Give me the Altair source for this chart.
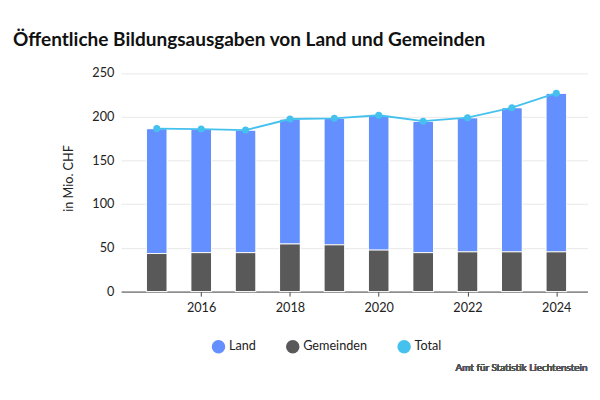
import altair as alt
import pandas as pd

years = [2015, 2016, 2017, 2018, 2019, 2020, 2021, 2022, 2023, 2024]
gemeinden = [43.6, 44.6, 44.6, 54.5, 53.5, 47.5, 44.6, 45.5, 45.5, 45.5]
total = [186.5, 186.0, 184.8, 197.5, 198.3, 201.8, 195.0, 199.0, 210.5, 227.0]
land = [round(t - g, 1) for t, g in zip(total, gemeinden)]

bars = pd.DataFrame(
    {"Jahr": years * 2, "Wert": land + gemeinden,
     "Serie": ["Land"] * 10 + ["Gemeinden"] * 10,
     "ord": [1] * 10 + [0] * 10}
)
line = pd.DataFrame({"Jahr": years, "Wert": total, "Serie": ["Total"] * 10})

font = "Lato"
color = alt.Color(
    "Serie:N",
    scale=alt.Scale(domain=["Land", "Gemeinden", "Total"],
                    range=["#648fff", "#595959", "#45c1ee"]),
    legend=alt.Legend(title=None, orient="none", direction="horizontal",
                      legendX=100, legendY=304,
                      symbolType="circle", symbolSize=180, labelFontSize=14,
                      labelFont=font, labelColor="#222", columnPadding=30),
)
x = alt.X("Jahr:Q", title=None, scale=alt.Scale(domain=[2014.3, 2024.6], nice=False, zero=False),
          axis=alt.Axis(values=[2016, 2018, 2020, 2022, 2024], format="d", grid=False,
                        labelFontSize=14, labelFont=font, labelColor="#222",
                        domainColor="#333", tickColor="#333", labelPadding=6))
y = alt.Y("Wert:Q", title="in Mio. CHF", scale=alt.Scale(domain=[0, 250]),
          stack="zero",
          axis=alt.Axis(values=[0, 50, 100, 150, 200, 250], domain=False, ticks=False,
                        labelFontSize=14, labelFont=font, labelColor="#222",
                        titleFontSize=14, titleFont=font, titleFontWeight="normal",
                        titleColor="#222", gridColor="#e6e6e6", labelPadding=8,
                        titlePadding=18))

bar = alt.Chart(bars).mark_bar(width=23, stroke="white", strokeWidth=1,
                               cornerRadiusTopLeft=2, cornerRadiusTopRight=2).encode(
    x=x, y=y, color=color, order=alt.Order("ord:Q"))
ln = alt.Chart(line).mark_line(strokeWidth=2, point=alt.OverlayMarkDef(size=60, filled=True)).encode(
    x=x, y=alt.Y("Wert:Q"), color=color)
src = alt.Chart(line).mark_text(align="right", fontSize=11, font=font, fontWeight="normal",
                                color="#555").encode(
    x=alt.value(515), y=alt.value(336), text=alt.value("Amt für Statistik Liechtenstein"))

chart = (
    alt.layer(bar, ln, src)
    .properties(
        width=515, height=251,
        padding={"left": 5, "top": 5, "right": 5, "bottom": 5},
        title=alt.Title("Öffentliche Bildungsausgaben von Land und Gemeinden",
                        font=font, fontSize=21, fontWeight="bold", anchor="start",
                        color="#111", offset=16, dx=-55),
    )
    .configure_view(stroke=None)
)
chart.save("out.html", embed_options={"renderer": "svg", "actions": False})
